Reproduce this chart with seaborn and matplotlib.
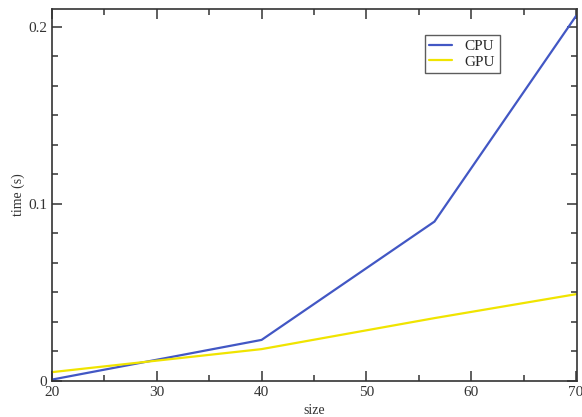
import matplotlib
matplotlib.use('Agg')
import matplotlib.pyplot as plt
import seaborn as sns
import pandas as pd
from matplotlib.ticker import AutoMinorLocator, FixedLocator

sizes = [20, 40, 56.5, 70]
cpu_times = [0.0008, 0.0232, 0.090, 0.206]
gpu_times = [0.005, 0.018, 0.0355, 0.049]
x_ticks = [20, 30, 40, 50, 60, 70]
y_ticks = [0, 0.1, 0.2]
y_tick_labels = ['0', '0.1', '0.2']

sns.set_style('ticks')
plt.rcParams['font.family'] = ['Liberation Serif', 'DejaVu Serif']

df = pd.DataFrame({
    'size': sizes * 2,
    'time': cpu_times + gpu_times,
    'device': ['CPU'] * len(sizes) + ['GPU'] * len(sizes),
})

fig = plt.figure(figsize=(5.82, 4.17), dpi=100)
ax = fig.add_axes([52 / 582, 1 - 381 / 417, (577 - 52) / 582, (381 - 9) / 417])

sns.lineplot(data=df, x='size', y='time', hue='device',
             palette={'CPU': '#4257c4', 'GPU': '#f0e400'},
             linewidth=1.6, ax=ax)

ax.set_xlim(20, 70.1)
ax.set_ylim(0, 0.21)
ax.xaxis.set_major_locator(FixedLocator(x_ticks))
ax.set_yticks(y_ticks)
ax.set_yticklabels(y_tick_labels)
ax.xaxis.set_minor_locator(AutoMinorLocator(2))
ax.yaxis.set_minor_locator(AutoMinorLocator(6))
ax.tick_params(which='both', direction='in', top=True, right=True,
               labelsize=11, colors='#333333', width=1.1)
ax.tick_params(which='major', length=7)
ax.tick_params(which='minor', length=4)
for s in ax.spines.values():
    s.set_color('#333333')
    s.set_linewidth(1.2)

ax.set_xlabel('size', fontsize=10, color='#333333', labelpad=4)
ax.set_ylabel('time (s)', fontsize=10, color='#333333', labelpad=2)

leg = ax.legend(loc='upper left', bbox_to_anchor=(0.71, 0.93), fontsize=11,
                frameon=True, fancybox=False, handlelength=1.5,
                borderpad=0.3, labelspacing=0.1, borderaxespad=0, title=None)
leg.get_frame().set_edgecolor('#333333')
leg.get_frame().set_linewidth(1.0)

fig.savefig('out.png', dpi=100)
